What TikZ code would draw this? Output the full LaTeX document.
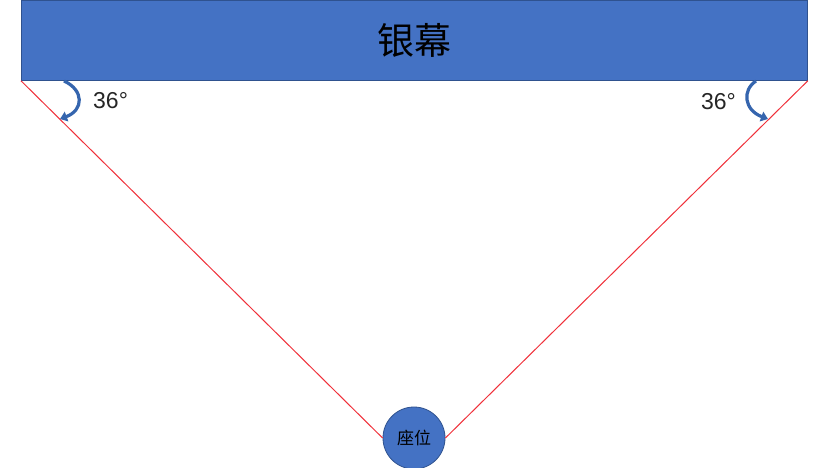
\documentclass[tikz,border=0pt]{standalone}
\usepackage{fontspec}
\setmainfont{Liberation Sans}
\newfontfamily\cjk{Noto Sans CJK SC}
\usetikzlibrary{arrows.meta}
\definecolor{boxblue}{HTML}{4472C4}
\definecolor{boxedge}{HTML}{2F528F}
\definecolor{arrblue}{HTML}{3565AE}
\definecolor{linered}{HTML}{F0303A}
\tikzset{
  redline/.style={draw=linered, line width=1pt},
  curvearrow/.style={draw=arrblue, line width=3.2pt, -{Triangle[width=10pt,length=7pt]}},
  anglelabel/.style={font=\fontsize{23}{26}\selectfont, text=black!85, inner sep=0pt},
}
\begin{document}
\begin{tikzpicture}[x=1pt,y=-1pt]
\useasboundingbox (0,0) rectangle (830,467);
\fill[white] (0,0) rectangle (830,467);
\node[draw=boxedge, fill=boxblue, line width=0.8pt, minimum width=786pt, minimum height=80pt, inner sep=0pt, anchor=north west, font=\cjk\fontsize{37}{40}\selectfont] (screen) at (21,0) {银幕};
\node[circle, draw=boxedge, fill=boxblue, line width=0.8pt, minimum size=62pt, inner sep=0pt, font=\cjk\fontsize{17}{20}\selectfont] (seat) at (414,438) {座位};
\draw[redline] (screen.south west) -- (seat.west);
\draw[redline] (seat.east) -- (screen.south east);
\coordinate (la) at (64,81);
\coordinate (lb) at (60,119);
\coordinate (ra) at (756,81);
\coordinate (rb) at (768,119);
\draw[curvearrow] (la) .. controls (84,90) and (84,110) .. (lb);
\draw[curvearrow] (ra) .. controls (742,90) and (744,110) .. (rb);
\node[anglelabel, anchor=west] (lt) at (93,101) {36°};
\node[anglelabel, anchor=east] (rt) at (736,102) {36°};
\end{tikzpicture}
\end{document}
